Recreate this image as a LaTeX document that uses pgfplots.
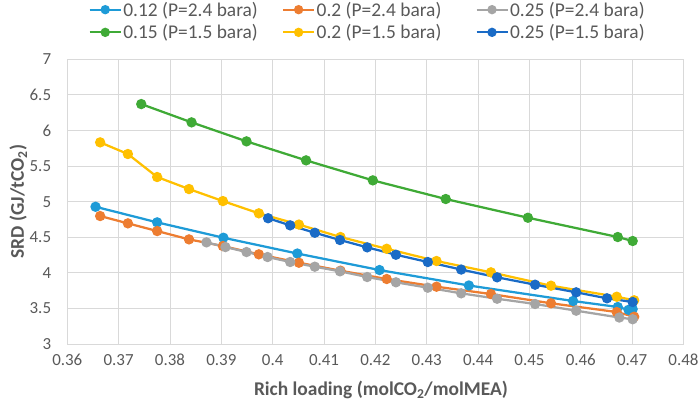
\documentclass[border=0pt]{standalone}
\usepackage{pgfplots}
\pgfplotsset{compat=1.18}
\usepackage{fontspec}
\setmainfont{Carlito}
\definecolor{cA}{HTML}{1E9BD7}
\definecolor{cB}{HTML}{ED7D31}
\definecolor{cC}{HTML}{A5A5A5}
\definecolor{cD}{HTML}{3FAA36}
\definecolor{cE}{HTML}{FFC000}
\definecolor{cF}{HTML}{1A6BC6}
\definecolor{gridc}{HTML}{D9D9D9}
\definecolor{txt}{HTML}{595959}
\begin{document}
\begin{tikzpicture}
\path[use as bounding box] (-67.3bp,-64bp) rectangle (631.7bp,344bp);
\begin{axis}[
  at={(0,0)}, anchor=south west,
  scale only axis, width=616.2bp, height=284.7bp,
  xmin=0.36, xmax=0.48, ymin=3, ymax=7,
  xtick={0.36,0.37,0.38,0.39,0.40,0.41,0.42,0.43,0.44,0.45,0.46,0.47,0.48},
  xticklabels={0.36,0.37,0.38,0.39,0.4,0.41,0.42,0.43,0.44,0.45,0.46,0.47,0.48},
  ytick={3,3.5,4,4.5,5,5.5,6,6.5,7},
  yticklabels={3,3.5,4,4.5,5,5.5,6,6.5,7},
  grid=major, major grid style={draw=gridc, line width=1bp},
  axis line style={draw=none}, major tick length=0pt,
  tick label style={font=\fontsize{17}{17}\selectfont, text=txt},
  yticklabel style={inner xsep=0pt, xshift=-16bp},
  xticklabel style={inner ysep=0pt, yshift=-10bp},
  xlabel={Rich loading (molCO\textsubscript{2}/molMEA)},
  ylabel={SRD (GJ/tCO\textsubscript{2})},
  label style={font=\bfseries\fontsize{19.5}{19.5}\selectfont, text=txt},
  xlabel style={at={(axis description cs:0.509,-0.1616)}, anchor=center},
  ylabel style={at={(axis description cs:-0.0795,0.5)}, anchor=center},
  every axis plot/.append style={line width=2.25bp, mark=*, mark size=4bp},
  legend columns=3,
  legend style={draw=none, fill=none, at={(axis description cs:0.487,1.1345)}, anchor=center,
    font=\fontsize{19.5}{19.5}\selectfont, text=txt, row sep=3bp,
    /tikz/column 2/.style={column sep=22.6bp},
    /tikz/column 4/.style={column sep=32.5bp},
    nodes={inner xsep=1.5bp}},
  legend cell align=left,
  legend image code/.code={\draw[mark repeat=2,mark phase=2,#1,mark size=3.5bp] plot coordinates {(0bp,0bp) (15.5bp,0bp) (31bp,0bp)};},
]
\addplot[color=cA] coordinates {
(0.3655,4.928) (0.3775,4.709) (0.3904,4.493) (0.4048,4.271) (0.4208,4.039)
(0.4382,3.822) (0.4585,3.604) (0.4672,3.52) (0.4693,3.48) (0.4701,3.49)};
\addlegendentry{0.12 (P=2.4 bara)}
\addplot[color=cB] coordinates {
(0.3664,4.798) (0.3718,4.695) (0.3775,4.587) (0.3837,4.470) (0.3903,4.376)
(0.3973,4.260) (0.4051,4.142) (0.4132,4.030) (0.4222,3.913) (0.4319,3.805)
(0.4425,3.702) (0.4542,3.572) (0.4670,3.449) (0.4704,3.383)};
\addlegendentry{0.2 (P=2.4 bara)}
\addplot[color=cC] coordinates {
(0.3871,4.428) (0.3908,4.362) (0.3949,4.292) (0.3990,4.222) (0.4034,4.152)
(0.4082,4.086) (0.4131,4.021) (0.4184,3.941) (0.4240,3.867) (0.4302,3.791)
(0.4367,3.712) (0.4437,3.636) (0.4511,3.562) (0.4591,3.468) (0.4675,3.372)
(0.4701,3.348)};
\addlegendentry{0.25 (P=2.4 bara)}
\addplot[color=cD] coordinates {
(0.3744,6.371) (0.3842,6.114) (0.3949,5.847) (0.4065,5.580) (0.4195,5.299)
(0.4337,5.037) (0.4497,4.774) (0.4672,4.503) (0.4701,4.447)};
\addlegendentry{0.15 (P=1.5 bara)}
\addplot[color=cE] coordinates {
(0.3664,5.833) (0.3718,5.669) (0.3775,5.346) (0.3837,5.177) (0.3903,5.008)
(0.3973,4.836) (0.4051,4.678) (0.4132,4.503) (0.4222,4.338) (0.4319,4.166)
(0.4425,4.007) (0.4542,3.819) (0.4670,3.664) (0.4704,3.614)};
\addlegendentry{0.2 (P=1.5 bara)}
\addplot[color=cF] coordinates {
(0.3991,4.767) (0.4034,4.667) (0.4082,4.563) (0.4131,4.461) (0.4184,4.358)
(0.4240,4.254) (0.4302,4.152) (0.4367,4.046) (0.4437,3.937) (0.4511,3.833)
(0.4591,3.726) (0.4651,3.642) (0.4701,3.590)};
\addlegendentry{0.25 (P=1.5 bara)}
\end{axis}
\end{tikzpicture}
\end{document}
